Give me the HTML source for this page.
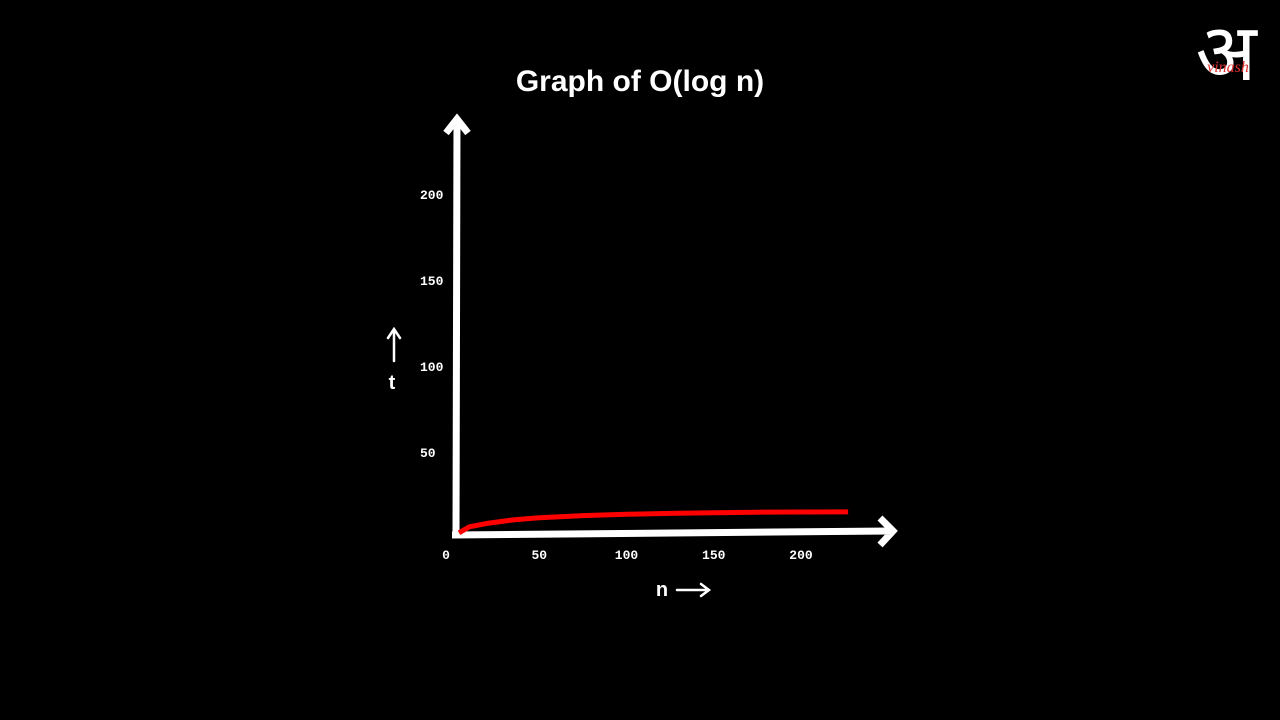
<!DOCTYPE html>
<html><head><meta charset="utf-8">
<style>
html,body{margin:0;padding:0;background:#000;width:1280px;height:720px;overflow:hidden}
svg{display:block}
</style></head>
<body>
<svg id="chart" width="1280" height="720" viewBox="0 0 1280 720">
<rect width="1280" height="720" fill="#000"/>
<text x="640" y="91" text-anchor="middle" fill="#fff" font-family="Liberation Sans, sans-serif" font-weight="bold" font-size="30">Graph of O(log n)</text>
<g>
<text x="1226" y="80" text-anchor="middle" fill="#fff" font-family="Liberation Sans, Noto Sans CJK SC, sans-serif" font-size="80">अ</text>
<text x="1228" y="72" text-anchor="middle" fill="#e03030" font-family="Liberation Serif, serif" font-style="italic" font-size="16">vinash</text>
</g>
<g id="axes"></g>
<g id="ticks"></g>
<g id="series"></g>
<g>
<path d="M394 361 L394 330 M388 338 L394 329 L400 338" stroke="#fff" stroke-width="2.5" fill="none" stroke-linecap="round"/>
<text x="392" y="389" text-anchor="middle" fill="#fff" font-family="Liberation Sans, sans-serif" font-weight="bold" font-size="20">t</text>
</g>
<g>
<text x="662" y="596" text-anchor="middle" fill="#fff" font-family="Liberation Sans, sans-serif" font-weight="bold" font-size="20">n</text>
<path d="M677 590 L709 590 M701 584 L709 590 L701 596" stroke="#fff" stroke-width="2.5" fill="none" stroke-linecap="round"/>
</g>
</svg>
<script>
const xTicks = [0, 50, 100, 150, 200];
const yTicks = [50, 100, 150, 200];
const nVals = [4, 10, 20, 35, 50, 75, 100, 125, 150, 175, 200, 227];
const tVals = [3, 6.5, 8.5, 10.5, 11.8, 13, 13.8, 14.3, 14.7, 15, 15.1, 15.2];

const NS = "http://www.w3.org/2000/svg";
const x = n => 452 + 1.745 * n;
const y = t => 538 - 1.72 * t;
function mk(tag, attrs, parent){const e=document.createElementNS(NS,tag);for(const k in attrs)e.setAttribute(k,attrs[k]);parent.appendChild(e);return e;}

const axes = document.getElementById('axes');
const xa = mk('path',{d:'M452 535 L892 531 M880 518 L893 531 L880 545',stroke:'#fff','stroke-width':7,fill:'none'},axes);


const ya = mk('path',{d:'M456 535 L457 120 M446 133 L457 119 L468 133',stroke:'#fff','stroke-width':7,fill:'none'},axes);



const ticks = document.getElementById('ticks');
xTicks.forEach(v=>{
  const t = mk('text',{x:(v===0?446:x(v)),y:559,'text-anchor':'middle',fill:'#fff','font-family':'Liberation Mono, monospace','font-size':13,'font-weight':'bold'},ticks);
  t.textContent = v;
  
  
});
yTicks.forEach(v=>{
  const t = mk('text',{x:420,y:y(v)+5,'text-anchor':'start',fill:'#fff','font-family':'Liberation Mono, monospace','font-size':13,'font-weight':'bold'},ticks);
  t.textContent = v;
  
  
});

const series = document.getElementById('series');
let d = '';
nVals.forEach((n,i)=>{ d += (i? ' L':'M') + x(n).toFixed(1) + ' ' + y(tVals[i]).toFixed(1); });
const line = mk('path',{d:d,stroke:'#ff0000','stroke-width':5,fill:'none','stroke-linejoin':'round'},series);


</script>
</body></html>
